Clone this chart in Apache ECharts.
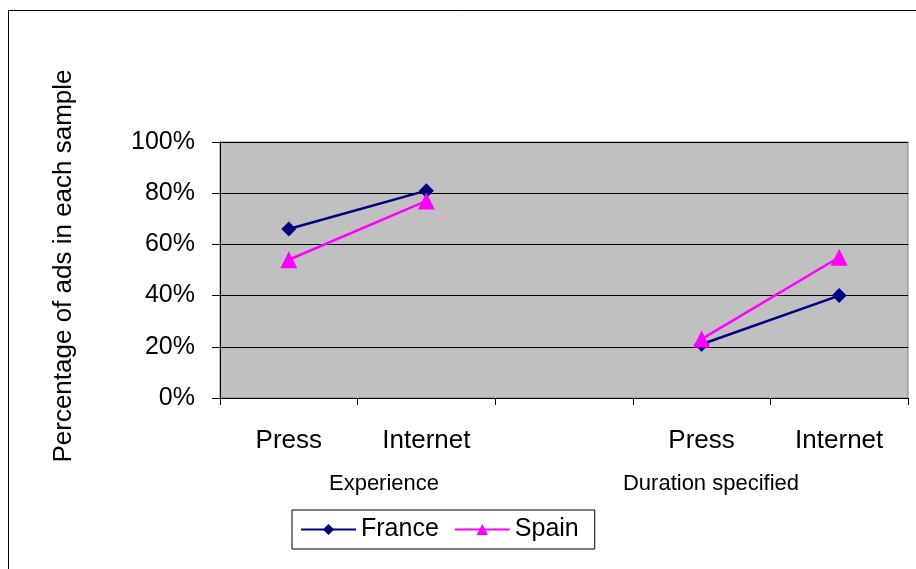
<!DOCTYPE html>
<html>
<head>
<meta charset="utf-8">
<script src="https://cdn.jsdelivr.net/npm/echarts@6/dist/echarts.min.js"></script>
<style>
  html, body { margin: 0; padding: 0; background: #fff; }
  #chart { width: 916px; height: 569px; }
</style>
</head>
<body>
<div id="chart"></div>
<script>
// Categories along the x axis; the blank one separates the two groups
const categories = ['Press', 'Internet', '', 'Press', 'Internet'];
const groupLabels = ['Experience', 'Duration specified'];
// Share of ads (%) per sample
const franceValues = [66, 81, null, 21, 40];
const spainValues = [54, 77, null, 23, 55];
const yTicks = [0, 20, 40, 60, 80, 100];

const FONT = 'Liberation Sans, Arial, sans-serif';
const chart = echarts.init(document.getElementById('chart'));

chart.setOption({
  backgroundColor: '#ffffff',
  animation: false,
  textStyle: { fontFamily: FONT },
  grid: {
    left: 220, right: 8, top: 142, bottom: 171,
    show: true,
    backgroundColor: '#C0C0C0',
    borderColor: '#808080',
    borderWidth: 1
  },
  legend: {
    left: 292, top: 510,
    padding: [7, 16, 7, 8],
    itemGap: 15,
    itemWidth: 55,
    itemHeight: 14,
    borderColor: '#000',
    borderWidth: 1,
    backgroundColor: '#fff',
    textStyle: { fontSize: 25, color: '#000', fontFamily: FONT },
    data: ['France', 'Spain']
  },
  xAxis: {
    type: 'category',
    data: categories,
    boundaryGap: true,
    axisLine: { lineStyle: { color: '#000', width: 1 } },
    axisTick: { show: true, length: 7, interval: 0, lineStyle: { color: '#000' } },
    axisLabel: { fontSize: 26, color: '#000', margin: 30, interval: 0, fontFamily: FONT },
    splitLine: { show: false }
  },
  yAxis: {
    type: 'value',
    min: yTicks[0], max: yTicks[yTicks.length - 1], interval: 20,
    name: 'Percentage of ads in each sample',
    nameLocation: 'middle',
    nameGap: 143,
    nameRotate: 90,
    nameTextStyle: { fontSize: 26, color: '#000', fontFamily: FONT, padding: [0, 0, 0, 8] },
    axisLine: { show: true, lineStyle: { color: '#000', width: 1 } },
    axisTick: { show: true, inside: false, length: 8, lineStyle: { color: '#000' } },
    axisLabel: { fontSize: 25, color: '#000', margin: 25, formatter: '{value}%', fontFamily: FONT },
    splitLine: { show: true, lineStyle: { color: '#000', width: 1 } }
  },
  series: [
    {
      name: 'France', type: 'line', data: franceValues,
      connectNulls: false,
      symbol: 'diamond', symbolSize: 15,
      lineStyle: { color: '#000080', width: 2.5 },
      itemStyle: { color: '#000080' },
      z: 3
    },
    {
      name: 'Spain', type: 'line', data: spainValues,
      connectNulls: false,
      symbol: 'triangle', symbolSize: 17,
      lineStyle: { color: '#FF00FF', width: 2.5 },
      itemStyle: { color: '#FF00FF' },
      z: 4
    }
  ],
  graphic: [
    {
      type: 'rect', silent: true, z: -10,
      shape: { x: 8.5, y: 10.5, width: 1000, height: 1000 },
      style: { fill: 'none', stroke: '#000', lineWidth: 1 }
    },
    {
      type: 'text', silent: true,
      x: 384, y: 484,
      style: { text: groupLabels[0], fill: '#000', font: '22px ' + FONT, textAlign: 'center', textVerticalAlign: 'middle' }
    },
    {
      type: 'text', silent: true,
      x: 711, y: 484,
      style: { text: groupLabels[1], fill: '#000', font: '22px ' + FONT, textAlign: 'center', textVerticalAlign: 'middle' }
    }
  ]
});
</script>
</body>
</html>
